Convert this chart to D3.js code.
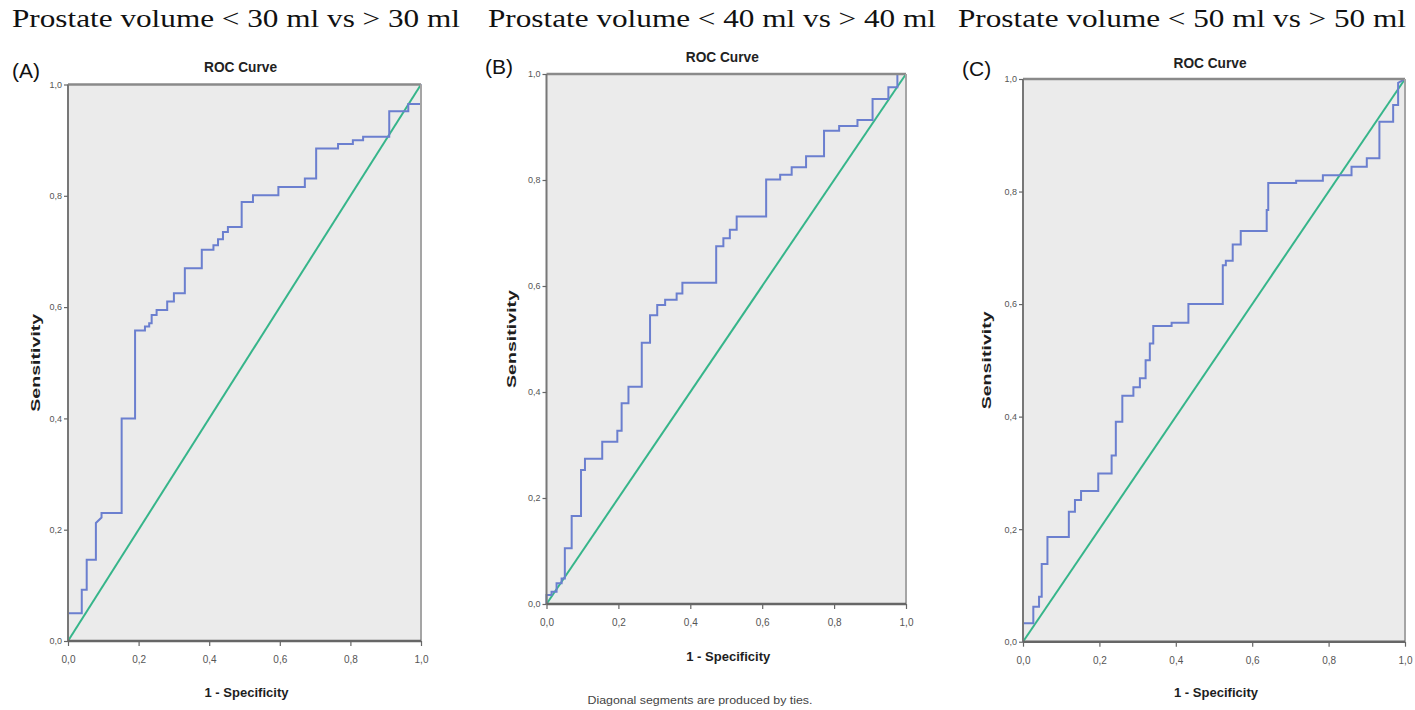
<!DOCTYPE html>
<html>
<head>
<meta charset="UTF-8">
<title>ROC curves by prostate volume</title>
<style>
    body { margin: 0; padding: 0; background: #fff; }
    svg { display: block; }
    .title { font-family: 'Liberation Serif', 'Times New Roman', serif; font-size: 25px; fill: #111; }
    .letter { font-family: 'Liberation Sans', Arial, sans-serif; font-size: 21px; fill: #111; }
    .roc { font-family: 'Liberation Sans', Arial, sans-serif; font-size: 15px; font-weight: bold; fill: #222; }
    .axlabel { font-family: 'Liberation Sans', Arial, sans-serif; font-size: 13px; font-weight: bold; fill: #1e1e1e; }
    .note { font-family: 'Liberation Sans', Arial, sans-serif; font-size: 11px; fill: #444; }
    .tick text { font-family: 'Liberation Sans', Arial, sans-serif; font-size: 10px; fill: #555; }
    .tick line { stroke: #666; stroke-width: 1.2px; }
</style>
</head>
<body>
<svg></svg>
<script src="https://d3js.org/d3.v7.min.js"></script>
<script>

// chart data
let panelTitles = [
    "Prostate volume < 30 ml vs > 30 ml",
    "Prostate volume < 40 ml vs > 40 ml",
    "Prostate volume < 50 ml vs > 50 ml"
];
let panelLetters = ["(A)", "(B)", "(C)"];
let tickValues = [0, 0.2, 0.4, 0.6, 0.8, 1.0];
let diagonal = [[0, 0], [1, 1]];

// ROC vertices [1 - specificity, sensitivity]
let curveA = [[0,0],[0,0.05],[0.039,0.05],[0.039,0.092],[0.053,0.092],[0.053,0.146],[0.079,0.146],[0.079,0.212],
    [0.095,0.222],[0.095,0.23],[0.152,0.23],[0.152,0.40],[0.19,0.40],[0.19,0.558],[0.218,0.558],[0.218,0.565],
    [0.23,0.565],[0.23,0.571],[0.237,0.571],[0.237,0.586],[0.251,0.586],[0.251,0.595],[0.281,0.595],[0.281,0.61],
    [0.30,0.61],[0.30,0.625],[0.331,0.625],[0.331,0.67],[0.379,0.67],[0.379,0.703],[0.412,0.703],[0.412,0.711],
    [0.425,0.711],[0.425,0.722],[0.439,0.722],[0.439,0.735],[0.453,0.735],[0.453,0.744],[0.492,0.744],[0.492,0.789],
    [0.524,0.789],[0.524,0.801],[0.596,0.801],[0.596,0.816],[0.671,0.816],[0.671,0.831],[0.703,0.831],[0.703,0.885],
    [0.765,0.885],[0.765,0.893],[0.807,0.893],[0.807,0.90],[0.836,0.90],[0.836,0.906],[0.91,0.906],[0.91,0.952],
    [0.964,0.952],[0.964,0.965],[1,0.965],[1,1]];

let curveB = [[0,0],[0,0.017],[0.014,0.017],[0.014,0.023],[0.028,0.023],[0.028,0.039],[0.042,0.039],[0.042,0.048],
    [0.051,0.048],[0.051,0.105],[0.07,0.105],[0.07,0.166],[0.096,0.166],[0.096,0.253],[0.107,0.253],[0.107,0.274],
    [0.155,0.274],[0.155,0.306],[0.197,0.306],[0.197,0.327],[0.209,0.327],[0.209,0.379],[0.228,0.379],[0.228,0.41],
    [0.265,0.41],[0.265,0.493],[0.288,0.493],[0.288,0.545],[0.308,0.545],[0.308,0.564],[0.33,0.564],[0.33,0.574],
    [0.362,0.574],[0.362,0.586],[0.378,0.586],[0.378,0.606],[0.472,0.606],[0.472,0.675],[0.492,0.675],[0.492,0.69],
    [0.51,0.69],[0.51,0.706],[0.529,0.706],[0.529,0.731],[0.611,0.731],[0.611,0.801],[0.65,0.801],[0.65,0.81],
    [0.682,0.81],[0.682,0.824],[0.722,0.824],[0.722,0.845],[0.772,0.845],[0.772,0.893],[0.814,0.893],[0.814,0.902],
    [0.865,0.902],[0.865,0.913],[0.907,0.913],[0.907,0.953],[0.951,0.953],[0.951,0.975],[0.976,0.975],[0.976,1],[1,1]];

let curveC = [[0,0],[0,0.033],[0.027,0.033],[0.027,0.062],[0.042,0.062],[0.042,0.08],[0.049,0.08],[0.049,0.138],
    [0.064,0.138],[0.064,0.186],[0.12,0.186],[0.12,0.231],[0.136,0.231],[0.136,0.252],[0.152,0.252],[0.152,0.268],
    [0.197,0.268],[0.197,0.299],[0.232,0.299],[0.232,0.331],[0.243,0.331],[0.243,0.391],[0.26,0.391],[0.26,0.437],
    [0.289,0.437],[0.289,0.452],[0.306,0.452],[0.306,0.468],[0.321,0.468],[0.321,0.50],[0.332,0.50],[0.332,0.53],
    [0.341,0.53],[0.341,0.561],[0.389,0.561],[0.389,0.567],[0.433,0.567],[0.433,0.60],[0.523,0.60],[0.523,0.669],
    [0.531,0.669],[0.531,0.677],[0.549,0.677],[0.549,0.706],[0.57,0.706],[0.57,0.73],[0.638,0.73],[0.638,0.767],
    [0.642,0.767],[0.642,0.815],[0.715,0.815],[0.715,0.819],[0.785,0.819],[0.785,0.829],[0.86,0.829],[0.86,0.844],
    [0.90,0.844],[0.90,0.859],[0.933,0.859],[0.933,0.924],[0.969,0.924],[0.969,0.954],[0.982,0.954],[0.982,0.993],[1,1]];

let curves = [curveA, curveB, curveC];

// layout of each panel (pixels)
let w = 1415, h = 710;
let layout = [
    {left: 68, right: 421, top: 84.5, bottom: 641, titleX: 236, letterX: 12, letterY: 78, rocY: 72, sensX: 40, specY: 697, note: false},
    {left: 546.5, right: 906, top: 74, bottom: 604, titleX: 712, letterX: 485, letterY: 74, rocY: 62, sensX: 516, specY: 661, note: true},
    {left: 1023, right: 1405, top: 79, bottom: 641.7, titleX: 1182, letterX: 962, letterY: 76, rocY: 68, sensX: 991, specY: 697, note: false}
];

let svg = d3.select("svg")
    .attr("width", w)
    .attr("height", h);

let commaFmt = d => d3.format(".1f")(d).replace(".", ",");

layout.forEach((p, i) => {

    let x = d3.scaleLinear().domain([0, 1]).range([p.left, p.right]);
    let y = d3.scaleLinear().domain([0, 1]).range([p.bottom, p.top]);
    let line = d3.line().x(d => x(d[0])).y(d => y(d[1]));

    let g = svg.append("g").attr("class", "panel");

    // headline above the panel
    svg.append("text")
        .attr("class", "title")
        .attr("x", p.titleX)
        .attr("y", 27)
        .attr("text-anchor", "middle")
        .attr("textLength", 448)
        .attr("lengthAdjust", "spacingAndGlyphs")
        .text(panelTitles[i]);

    svg.append("text")
        .attr("class", "letter")
        .attr("x", p.letterX)
        .attr("y", p.letterY)
        .text(panelLetters[i]);

    // plot background
    g.append("rect")
        .attr("x", p.left)
        .attr("y", p.top)
        .attr("width", p.right - p.left)
        .attr("height", p.bottom - p.top)
        .attr("fill", "#ebebeb");

    // reference line and ROC curve
    g.append("path")
        .attr("d", line(diagonal))
        .attr("fill", "none")
        .attr("stroke", "#36b58a")
        .attr("stroke-width", 2);

    g.append("path")
        .attr("d", line(curves[i]))
        .attr("fill", "none")
        .attr("stroke", "#6b7fcf")
        .attr("stroke-width", 2)
        .attr("stroke-linejoin", "miter");

    // frame
    g.append("line").attr("x1", p.left).attr("x2", p.right).attr("y1", p.top).attr("y2", p.top)
        .attr("stroke", "#8a8a8a").attr("stroke-width", 2.5);
    g.append("line").attr("x1", p.right).attr("x2", p.right).attr("y1", p.top).attr("y2", p.bottom)
        .attr("stroke", "#a5a5a5").attr("stroke-width", 2);
    g.append("line").attr("x1", p.left).attr("x2", p.left).attr("y1", p.top).attr("y2", p.bottom)
        .attr("stroke", "#777").attr("stroke-width", 2);
    g.append("line").attr("x1", p.left).attr("x2", p.right).attr("y1", p.bottom).attr("y2", p.bottom)
        .attr("stroke", "#666").attr("stroke-width", 2.5);

    // axes
    let xAxis = g.append("g")
        .attr("transform", `translate(0,${p.bottom})`)
        .call(d3.axisBottom(x).tickValues(tickValues).tickSize(5).tickPadding(10).tickFormat(commaFmt));
    xAxis.select(".domain").remove();

    let yAxis = g.append("g")
        .attr("transform", `translate(${p.left},0)`)
        .call(d3.axisLeft(y).tickValues(tickValues).tickSize(4).tickPadding(2).tickFormat(commaFmt));
    yAxis.select(".domain").remove();
    yAxis.selectAll(".tick text").style("font-size", "9px");

    // titles and axis labels
    g.append("text")
        .attr("class", "roc")
        .attr("x", (p.left + p.right) / 2 - 4)
        .attr("y", p.rocY)
        .attr("text-anchor", "middle")
        .attr("textLength", 73)
        .attr("lengthAdjust", "spacingAndGlyphs")
        .text("ROC Curve");

    g.append("text")
        .attr("class", "axlabel")
        .attr("transform", `translate(${p.sensX},${(p.top + p.bottom) / 2}) rotate(-90)`)
        .attr("text-anchor", "middle")
        .attr("textLength", 98)
        .attr("lengthAdjust", "spacingAndGlyphs")
        .text("Sensitivity");

    g.append("text")
        .attr("class", "axlabel")
        .attr("x", (p.left + p.right) / 2 + 2)
        .attr("y", p.specY)
        .attr("text-anchor", "middle")
        .attr("textLength", 84)
        .attr("lengthAdjust", "spacingAndGlyphs")
        .text("1 - Specificity");

    if (p.note) {
        g.append("text")
            .attr("class", "note")
            .attr("x", 700)
            .attr("y", 704)
            .attr("text-anchor", "middle")
            .attr("textLength", 225)
            .attr("lengthAdjust", "spacingAndGlyphs")
            .text("Diagonal segments are produced by ties.");
    }
});

</script>
</body>
</html>
